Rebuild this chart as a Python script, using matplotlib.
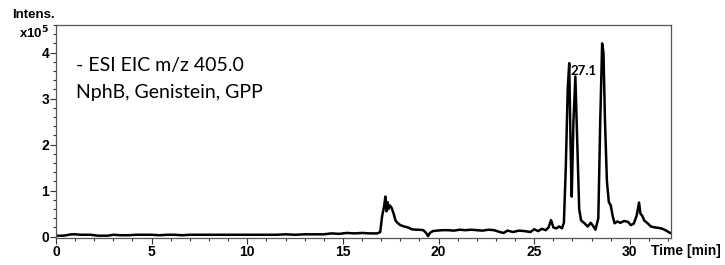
# -*- coding: utf-8 -*-
"""
Cromatograma EIC (m/z 405.0) - NphB, Genistein, GPP
"""
import matplotlib
matplotlib.use("Agg")
import matplotlib.pyplot as plt
from matplotlib.ticker import MultipleLocator

# tiempo de retencion (min)
tiempo = [0.0, 0.4, 0.8, 1.0, 1.3, 1.8, 2.2, 2.7, 3.0, 3.4, 3.8, 4.2, 4.6,
          5.0, 5.4, 5.8, 6.2, 6.6, 7.0, 7.5, 8.0, 8.5, 9.0, 9.5, 10.0, 10.5,
          11.0, 11.5, 12.0, 12.5, 13.0, 13.5, 14.0, 14.4, 14.8, 15.2, 15.6,
          16.0, 16.4, 16.8, 16.95, 17.05, 17.15, 17.22, 17.28, 17.33, 17.38,
          17.45, 17.55, 17.65, 17.75, 17.85, 18.0, 18.2, 18.4, 18.6, 18.8,
          19.0, 19.2, 19.35, 19.45, 19.55, 19.7, 19.9, 20.2, 20.5, 20.8,
          21.1, 21.4, 21.7, 22.0, 22.3, 22.6, 22.9, 23.2, 23.4, 23.6, 23.9,
          24.2, 24.5, 24.8, 25.0, 25.2, 25.4, 25.6, 25.75, 25.88, 26.0, 26.15,
          26.3, 26.45, 26.55, 26.65, 26.75, 26.83, 26.9, 26.96, 27.05, 27.15,
          27.25, 27.35, 27.45, 27.6, 27.8, 27.95, 28.05, 28.2, 28.35, 28.45,
          28.55, 28.62, 28.7, 28.8, 28.9, 29.0, 29.1, 29.2, 29.35, 29.5, 29.7,
          29.9, 30.05, 30.2, 30.35, 30.48, 30.55, 30.65, 30.75, 30.9, 31.1,
          31.3, 31.5, 31.7, 31.9, 32.1]

# intensidad (x10^5)
intensidad = [0.02, 0.02, 0.05, 0.05, 0.04, 0.04, 0.02, 0.02, 0.04, 0.03,
              0.03, 0.04, 0.04, 0.04, 0.03, 0.04, 0.04, 0.03, 0.04, 0.04,
              0.04, 0.04, 0.04, 0.04, 0.04, 0.04, 0.04, 0.04, 0.05, 0.04,
              0.05, 0.05, 0.05, 0.07, 0.06, 0.08, 0.07, 0.08, 0.07, 0.07,
              0.1, 0.45, 0.65, 0.87, 0.55, 0.75, 0.6, 0.68, 0.62, 0.5, 0.35,
              0.3, 0.25, 0.22, 0.2, 0.16, 0.15, 0.15, 0.14, 0.08, 0.01, 0.08,
              0.12, 0.13, 0.14, 0.14, 0.13, 0.15, 0.14, 0.15, 0.14, 0.13,
              0.15, 0.14, 0.1, 0.08, 0.13, 0.1, 0.13, 0.12, 0.1, 0.16, 0.12,
              0.17, 0.14, 0.2, 0.36, 0.2, 0.18, 0.22, 0.18, 0.3, 1.5, 3.2,
              3.77, 2.0, 0.87, 2.5, 3.48, 2.0, 0.6, 0.35, 0.3, 0.22, 0.3,
              0.25, 0.15, 0.4, 2.5, 4.2, 4.0, 2.5, 1.2, 0.75, 0.68, 0.45,
              0.29, 0.33, 0.3, 0.34, 0.32, 0.25, 0.28, 0.45, 0.74, 0.5, 0.45,
              0.35, 0.3, 0.22, 0.2, 0.19, 0.17, 0.13, 0.08]

etiqueta_pico = "27.1"
tiempo_pico = 26.9
altura_pico = 3.6


def grafica_cromatograma():
    fig = plt.figure(figsize=(7.25, 2.65), dpi=100)
    ax = fig.add_axes([0.0772, 0.1019, 0.8478, 0.8038])

    ax.plot(tiempo, intensidad, color="black", linewidth=1.8)

    ax.set_xlim(0, 32.13)
    ax.set_ylim(-0.03, 4.6)
    ax.xaxis.set_major_locator(MultipleLocator(5))
    ax.xaxis.set_minor_locator(MultipleLocator(1))
    ax.yaxis.set_major_locator(MultipleLocator(1))
    ax.yaxis.set_minor_locator(MultipleLocator(0.2))
    ax.tick_params(which="both", direction="out", width=0.8, color="#333333",
                   labelsize=10, pad=1)
    ax.tick_params(which="major", length=4)
    ax.tick_params(which="minor", length=2.5)
    for lab in ax.get_xticklabels() + ax.get_yticklabels():
        lab.set_fontfamily("Liberation Sans")
        lab.set_fontweight("bold")
    for sp in ax.spines.values():
        sp.set_color("#555555")
        sp.set_linewidth(0.9)

    # textos
    ax.text(0.032, 0.81, "- ESI EIC m/z 405.0", transform=ax.transAxes,
            fontsize=14, family="Lato", va="center")
    ax.text(0.032, 0.685, "NphB, Genistein, GPP", transform=ax.transAxes,
            fontsize=14, family="Lato", va="center")
    ax.text(tiempo_pico, altura_pico, etiqueta_pico, fontsize=9.5,
            family="Lato", fontweight="bold", va="center", ha="left")

    fig.text(12 / 725, 1 - 15 / 265, "Intens.", fontsize=9.5,
             family="Liberation Sans", fontweight="bold", va="center")
    fig.text(19 / 725, 1 - 33 / 265, r"x10$^{\mathbf{5}}$", fontsize=9.5,
             family="Liberation Sans", fontweight="bold", va="center")
    fig.text(651 / 725, 1 - 250.5 / 265, "Time [min]", fontsize=10,
             family="Liberation Sans", fontweight="bold", va="center")

    fig.savefig("out.png", dpi=100)


if __name__ == "__main__":
    grafica_cromatograma()
